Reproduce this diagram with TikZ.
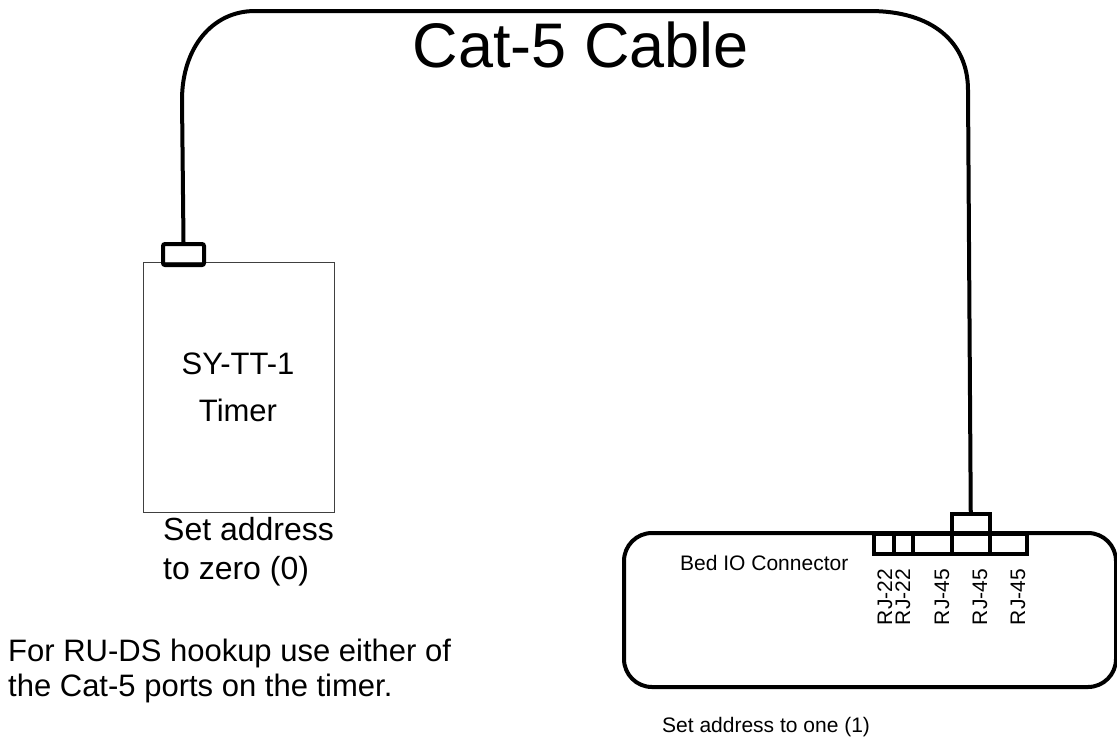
\documentclass[tikz,border=0pt]{standalone}
\usepackage{fontspec}
\setmainfont{Liberation Sans}
\begin{document}
\begin{tikzpicture}[x=1pt, y=-1pt]

    \tikzset{boxstyle/.style={draw, inner sep=0, anchor=north west},
             portstyle/.style={boxstyle, line width=3.5pt},
             cablestyle/.style={line width=4pt},
             bigtext/.style={font=\fontsize{31}{39}\selectfont, align=left, inner sep=0},
             smalltext/.style={font=\fontsize{21}{25}\selectfont, inner sep=0}}

    \useasboundingbox (0,0) rectangle (1117,740);

    % Timer.
    \node[boxstyle, line width=1.2pt, draw=black!75, minimum width=191pt, minimum height=250pt] (timer) at (143,262) {};
    \node[boxstyle, line width=4pt, rounded corners=2pt, minimum width=41pt, minimum height=21pt] (timerplug) at (161,242) {};
    \node[bigtext, align=center, font=\fontsize{31}{47}\selectfont] (tname) at (238,387) {SY-TT-1\\Timer};
    \node[bigtext, anchor=west, font=\fontsize{32}{39}\selectfont] (taddr) at (163,552) {Set address\\to zero (0)};
    \node[bigtext, anchor=west, font=\fontsize{31}{35}\selectfont] (hint) at (8,671) {For RU-DS hookup use either of\\the Cat-5 ports on the timer.};

    % Bed IO.
    \node[boxstyle, line width=4pt, rounded corners=28pt, minimum width=492pt, minimum height=154pt] (bedio) at (622,531) {};
    \node[portstyle, minimum width=20pt, minimum height=20pt] (rj22a) at (872,532) {};
    \node[portstyle, minimum width=19pt, minimum height=20pt] (rj22b) at (892,532) {};
    \node[portstyle, minimum width=39pt, minimum height=20pt] (rj45a) at (911,532) {};
    \node[portstyle, minimum width=38pt, minimum height=20pt] (rj45b) at (950,532) {};
    \node[portstyle, minimum width=37pt, minimum height=20pt] (rj45c) at (988,532) {};
    \node[portstyle, minimum width=38pt, minimum height=20pt] (bedplug) at (950,512) {};

    \node[smalltext, anchor=west] (bedname) at (680,563) {Bed IO Connector};
    \node[smalltext, anchor=west] (bedaddr) at (662,727) {Set address to one (1)};
    \node[smalltext, rotate=90] (l1) at (885,597) {RJ-22};
    \node[smalltext, rotate=90] (l2) at (903,597) {RJ-22};
    \node[smalltext, rotate=90] (l3) at (942,597) {RJ-45};
    \node[smalltext, rotate=90] (l4) at (980,597) {RJ-45};
    \node[smalltext, rotate=90] (l5) at (1018,597) {RJ-45};

    % Cable.
    \coordinate (c1) at (182,100);
    \coordinate (c2) at (255,11);
    \coordinate (c3) at (870,11);
    \coordinate (c4) at (968,90);
    \draw[cablestyle] (timerplug.north) -- (c1)
        .. controls (182,48) and (212,11) .. (c2) -- (c3)
        .. controls (932,11) and (968,42) .. (c4) -- (bedplug.north);

    \node[font=\fontsize{63}{63}\selectfont, inner sep=0] (title) at (581,45) {Cat-5 Cable};

\end{tikzpicture}
\end{document}
